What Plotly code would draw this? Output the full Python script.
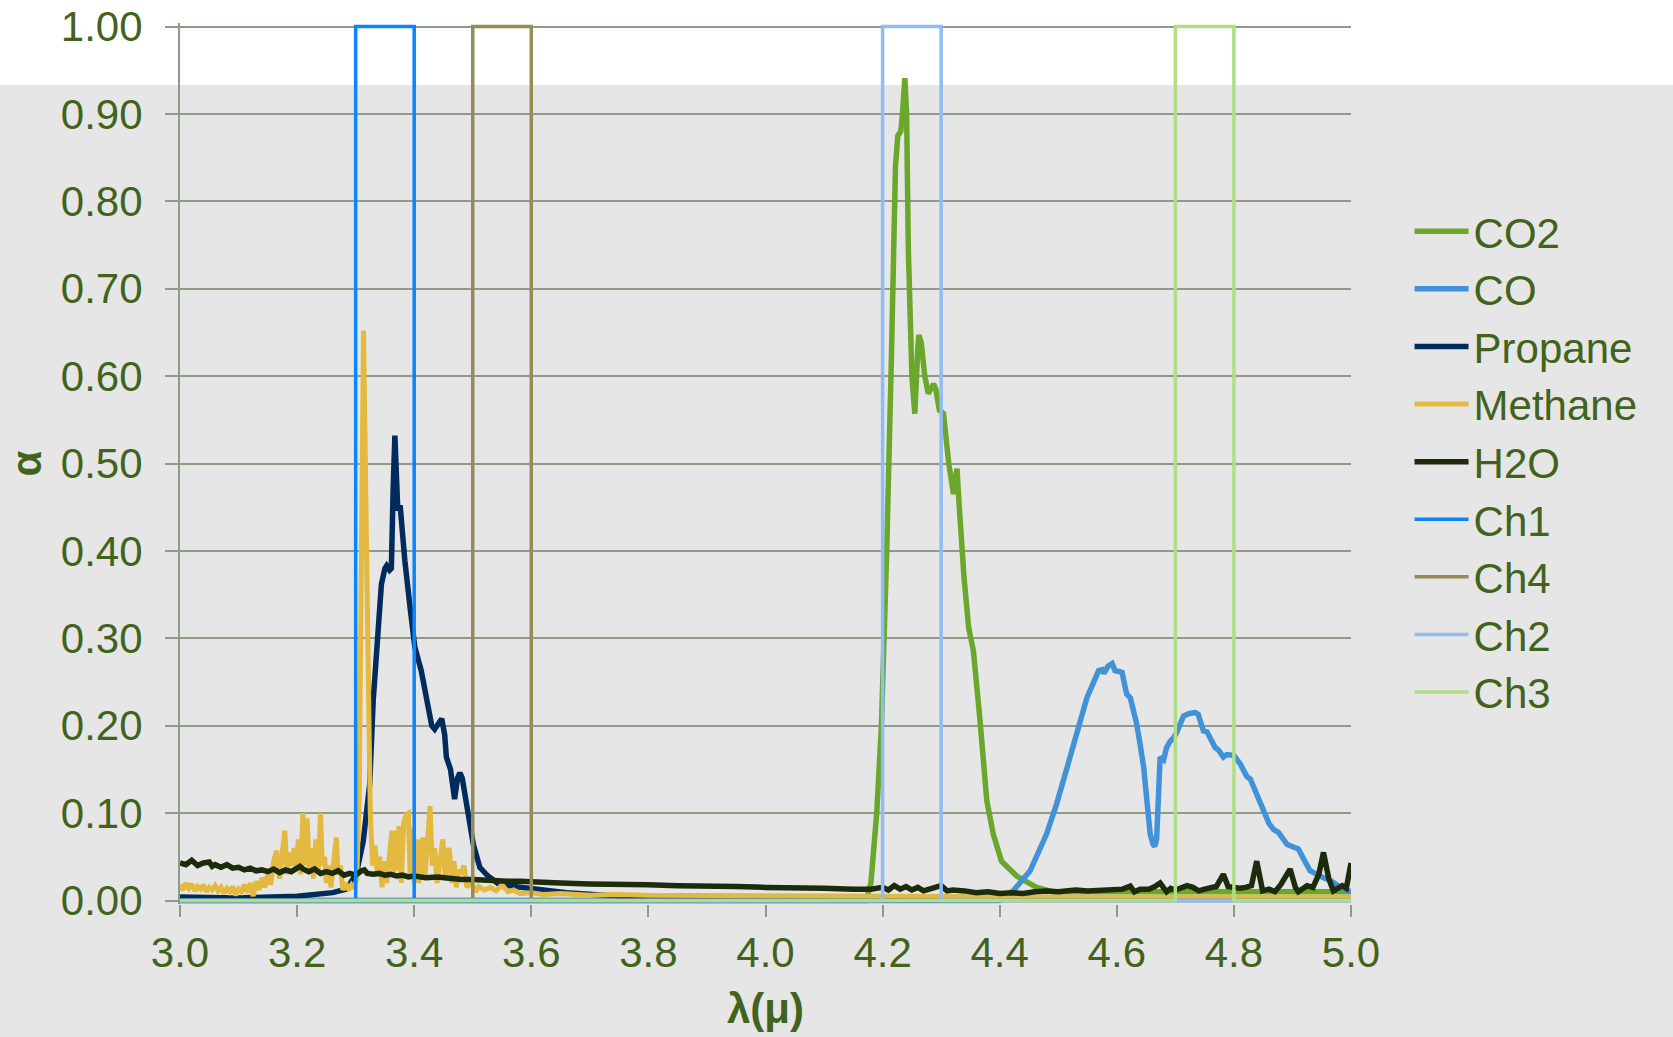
import plotly.graph_objects as go

# ---------------- data ----------------
co2_x = [3.0, 4.15, 4.172, 4.18, 4.186, 4.19, 4.198, 4.203, 4.207, 4.215, 4.222, 4.226, 4.231, 4.234,
         4.238, 4.241, 4.244, 4.25, 4.255, 4.26, 4.262, 4.266, 4.272, 4.278, 4.283, 4.287, 4.291, 4.297,
         4.304, 4.313, 4.321, 4.327, 4.331, 4.335, 4.339, 4.347, 4.355, 4.366, 4.378, 4.389, 4.403,
         4.429, 4.463, 4.49, 4.55, 4.7, 4.9, 5.0]
co2_y = [0.0, 0.0, 0.0, 0.02, 0.06, 0.10, 0.20, 0.30, 0.40, 0.62, 0.84, 0.875, 0.88, 0.90,
         0.941, 0.90, 0.744, 0.60, 0.557, 0.63, 0.647, 0.638, 0.60, 0.58, 0.585, 0.591, 0.585, 0.561,
         0.557, 0.50, 0.465, 0.494, 0.45, 0.40, 0.37, 0.312, 0.286, 0.209, 0.114, 0.076, 0.045,
         0.028, 0.015, 0.010, 0.010, 0.010, 0.010, 0.010]

co_x = [3.0, 4.40, 4.423, 4.452, 4.48, 4.497, 4.515, 4.532, 4.549, 4.569, 4.575, 4.578, 4.585, 4.592,
        4.597, 4.604, 4.609, 4.614, 4.617, 4.623, 4.628, 4.634, 4.640, 4.646, 4.652, 4.657, 4.662,
        4.665, 4.668, 4.671, 4.674, 4.680, 4.685, 4.691, 4.697, 4.702, 4.709, 4.714, 4.724, 4.734,
        4.739, 4.744, 4.748, 4.754, 4.761, 4.768, 4.774, 4.782, 4.788, 4.794, 4.800, 4.811, 4.822,
        4.828, 4.84, 4.851, 4.86, 4.868, 4.876, 4.891, 4.91, 4.918, 4.93, 4.953, 4.962, 4.987, 5.0]
co_y = [0.0, 0.0, 0.011, 0.034, 0.076, 0.110, 0.152, 0.194, 0.232, 0.263, 0.264, 0.260, 0.268, 0.271,
        0.263, 0.262, 0.261, 0.245, 0.236, 0.232, 0.220, 0.202, 0.178, 0.152, 0.110, 0.076, 0.064,
        0.062, 0.070, 0.120, 0.164, 0.161, 0.175, 0.182, 0.186, 0.192, 0.205, 0.211, 0.214, 0.215,
        0.213, 0.200, 0.194, 0.193, 0.183, 0.175, 0.172, 0.164, 0.167, 0.167, 0.166, 0.156, 0.142,
        0.139, 0.120, 0.099, 0.088, 0.081, 0.078, 0.064, 0.059, 0.049, 0.034, 0.026, 0.024, 0.013, 0.010]

propane_x = [3.0, 3.1, 3.2, 3.24, 3.261, 3.284, 3.301, 3.313, 3.324, 3.330, 3.338, 3.344, 3.350,
             3.353, 3.358, 3.361, 3.364, 3.367, 3.370, 3.372, 3.376, 3.380, 3.384, 3.393, 3.401,
             3.412, 3.421, 3.430, 3.435, 3.441, 3.447, 3.452, 3.455, 3.462, 3.469, 3.474, 3.478,
             3.482, 3.487, 3.492, 3.501, 3.512, 3.526, 3.546, 3.603, 3.660, 3.75, 3.9, 4.2, 5.0]
propane_y = [0.004, 0.003, 0.005, 0.007, 0.009, 0.013, 0.030, 0.068, 0.133, 0.229, 0.305, 0.362, 0.380,
             0.383, 0.378, 0.380, 0.470, 0.532, 0.480, 0.446, 0.452, 0.420, 0.389, 0.335, 0.290,
             0.263, 0.232, 0.200, 0.196, 0.203, 0.208, 0.190, 0.164, 0.150, 0.116, 0.140, 0.146,
             0.140, 0.120, 0.095, 0.064, 0.038, 0.028, 0.018, 0.013, 0.009, 0.005, 0.004, 0.003, 0.003]

methane_x = [3.000, 3.005, 3.010, 3.015, 3.020, 3.025, 3.030, 3.035, 3.040, 3.045, 3.050, 3.055, 3.060,
             3.065, 3.070, 3.075, 3.080, 3.085, 3.090, 3.095, 3.100, 3.105, 3.110, 3.115, 3.120, 3.125,
             3.130, 3.135, 3.140, 3.145, 3.150, 3.155, 3.160, 3.165, 3.170, 3.175, 3.179, 3.183, 3.187,
             3.190, 3.195, 3.198, 3.202, 3.206, 3.210, 3.213, 3.217, 3.221, 3.225, 3.228, 3.232, 3.236,
             3.240, 3.243, 3.247, 3.250, 3.254, 3.258, 3.262, 3.267, 3.270, 3.274, 3.278, 3.283, 3.288,
             3.293, 3.298, 3.302, 3.306, 3.310, 3.3135, 3.317, 3.321, 3.325, 3.329, 3.333, 3.337, 3.341,
             3.345, 3.349, 3.353, 3.358, 3.362, 3.365, 3.367, 3.370, 3.374, 3.378, 3.382, 3.387, 3.390,
             3.393, 3.396, 3.400, 3.404, 3.408, 3.412, 3.415, 3.418, 3.422, 3.427, 3.431, 3.435, 3.439,
             3.444, 3.449, 3.453, 3.457, 3.460, 3.464, 3.468, 3.472, 3.476, 3.480, 3.485, 3.490, 3.495,
             3.500, 3.505, 3.510, 3.520, 3.530, 3.540, 3.550, 3.560, 3.570, 3.580, 3.600, 3.620, 3.650,
             3.700, 3.750, 3.800, 3.900, 4.000, 4.200, 4.500, 5.000]
methane_y = [0.018, 0.012, 0.020, 0.014, 0.019, 0.011, 0.016, 0.013, 0.018, 0.010, 0.015, 0.012, 0.017,
             0.011, 0.015, 0.008, 0.014, 0.010, 0.016, 0.006, 0.013, 0.010, 0.018, 0.009, 0.020, 0.005,
             0.022, 0.012, 0.026, 0.015, 0.030, 0.018, 0.045, 0.057, 0.025, 0.050, 0.080, 0.030, 0.055,
             0.040, 0.060, 0.035, 0.070, 0.030, 0.100, 0.040, 0.094, 0.035, 0.060, 0.025, 0.070, 0.030,
             0.100, 0.040, 0.050, 0.020, 0.040, 0.015, 0.045, 0.072, 0.030, 0.040, 0.012, 0.020, 0.012,
             0.018, 0.014, 0.025, 0.120, 0.450, 0.652, 0.480, 0.250, 0.100, 0.040, 0.063, 0.030, 0.050,
             0.015, 0.045, 0.020, 0.053, 0.080, 0.030, 0.080, 0.035, 0.085, 0.020, 0.090, 0.099, 0.100,
             0.030, 0.083, 0.020, 0.070, 0.020, 0.065, 0.072, 0.025, 0.060, 0.108, 0.040, 0.060, 0.020,
             0.050, 0.070, 0.025, 0.055, 0.060, 0.020, 0.045, 0.015, 0.035, 0.030, 0.040, 0.015, 0.020,
             0.017, 0.010, 0.016, 0.012, 0.015, 0.011, 0.018, 0.010, 0.012, 0.008, 0.009, 0.007, 0.008,
             0.006, 0.007, 0.006, 0.006, 0.005, 0.005, 0.004, 0.004]

h2o_x = [3.00, 3.01, 3.02, 3.03, 3.04, 3.05, 3.055, 3.06, 3.07, 3.08, 3.09, 3.10, 3.11, 3.12, 3.13,
         3.14, 3.15, 3.16, 3.17, 3.18, 3.19, 3.20, 3.205, 3.21, 3.22, 3.23, 3.24, 3.25, 3.26, 3.27,
         3.28, 3.29, 3.30, 3.31, 3.315, 3.32, 3.33, 3.34, 3.35, 3.36, 3.37, 3.38, 3.39, 3.40, 3.42,
         3.44, 3.46, 3.48, 3.50, 3.52, 3.54, 3.56, 3.58, 3.60, 3.65, 3.70, 3.75, 3.80, 3.85, 3.90,
         3.95, 4.00, 4.05, 4.10, 4.15, 4.18, 4.20, 4.21, 4.22, 4.23, 4.24, 4.25, 4.26, 4.27, 4.28,
         4.30, 4.31, 4.32, 4.34, 4.36, 4.38, 4.40, 4.42, 4.44, 4.46, 4.48, 4.50, 4.52, 4.53, 4.55,
         4.57, 4.59, 4.61, 4.623, 4.63, 4.64, 4.655, 4.665, 4.674, 4.685, 4.692, 4.70, 4.71, 4.72,
         4.73, 4.74, 4.75, 4.76, 4.77, 4.782, 4.79, 4.80, 4.81, 4.82, 4.83, 4.839, 4.849, 4.86, 4.87,
         4.88, 4.896, 4.905, 4.91, 4.925, 4.935, 4.945, 4.953, 4.962, 4.97, 4.985, 4.992, 5.0]
h2o_y = [0.043, 0.041, 0.046, 0.040, 0.043, 0.044, 0.039, 0.041, 0.038, 0.041, 0.037, 0.038, 0.035,
         0.037, 0.034, 0.035, 0.033, 0.036, 0.032, 0.035, 0.033, 0.037, 0.039, 0.036, 0.033, 0.036,
         0.031, 0.033, 0.031, 0.034, 0.029, 0.031, 0.029, 0.034, 0.035, 0.031, 0.030, 0.031, 0.029,
         0.030, 0.028, 0.029, 0.027, 0.028, 0.026, 0.027, 0.025, 0.024, 0.024, 0.023, 0.023, 0.022,
         0.022, 0.021, 0.020, 0.019, 0.019, 0.018, 0.017, 0.017, 0.016, 0.015, 0.015, 0.014, 0.013,
         0.013, 0.015, 0.012, 0.017, 0.013, 0.016, 0.012, 0.015, 0.011, 0.013, 0.017, 0.011, 0.012,
         0.011, 0.009, 0.010, 0.008, 0.009, 0.008, 0.010, 0.011, 0.010, 0.011, 0.012, 0.011, 0.012,
         0.012, 0.013, 0.0165, 0.010, 0.013, 0.013, 0.016, 0.020, 0.010, 0.014, 0.012, 0.015, 0.017,
         0.015, 0.011, 0.013, 0.014, 0.016, 0.030, 0.016, 0.015, 0.014, 0.015, 0.017, 0.045, 0.011,
         0.013, 0.010, 0.018, 0.036, 0.015, 0.010, 0.017, 0.015, 0.030, 0.055, 0.025, 0.011, 0.017,
         0.014, 0.043]

# channel filter windows (lambda start, lambda end)
ch1_x = [3.0, 3.3, 3.3, 3.4, 3.4, 5.0]
ch4_x = [3.0, 3.5, 3.5, 3.6, 3.6, 5.0]
ch2_x = [3.0, 4.2, 4.2, 4.3, 4.3, 5.0]
ch3_x = [3.0, 4.7, 4.7, 4.8, 4.8, 5.0]
ch_y = [0, 0, 1, 1, 0, 0]

x_ticks = [3.0, 3.2, 3.4, 3.6, 3.8, 4.0, 4.2, 4.4, 4.6, 4.8, 5.0]
y_ticks = [0.0, 0.1, 0.2, 0.3, 0.4, 0.5, 0.6, 0.7, 0.8, 0.9, 1.0]

# ---------------- styling ----------------
TXT = "#41631b"
GRID = "#8e9b86"
FONT = "Arial, Liberation Sans, sans-serif"

series = [
    ("CO2", co2_x, co2_y, "#6aa72a", 5.5),
    ("CO", co_x, co_y, "#4292d9", 5.5),
    ("Propane", propane_x, propane_y, "#002b5c", 5.5),
    ("Methane", methane_x, methane_y, "#e3b93f", 5.0),
    ("H2O", h2o_x, h2o_y, "#1c2b0c", 5.5),
    ("Ch1", ch1_x, ch_y, "#0a84ff", 3.5),
    ("Ch4", ch4_x, ch_y, "#968c55", 3.5),
    ("Ch2", ch2_x, ch_y, "#8fbcf5", 3.5),
    ("Ch3", ch3_x, ch_y, "#b0de85", 3.5),
]

fig = go.Figure()
for name, xs, ys, color, w in series:
    fig.add_trace(go.Scatter(x=xs, y=ys, name=name, mode="lines",
                             line=dict(color=color, width=w)))

W, H = 1673, 1037
ml, mr, mt, mb = 180, 322, 23, 133

fig.update_layout(
    width=W, height=H, autosize=False,
    margin=dict(l=ml, r=mr, t=mt, b=mb, pad=0, autoexpand=False),
    paper_bgcolor="#e6e6e6",
    plot_bgcolor="rgba(0,0,0,0)",
    font=dict(family=FONT, color=TXT, size=42),
    showlegend=True,
    legend=dict(x=1.05, xanchor="left", y=0.802, yanchor="top",
                bgcolor="rgba(0,0,0,0)", font=dict(size=42, color=TXT, family=FONT),
                tracegroupgap=0, itemwidth=54),
    xaxis=dict(range=[3.0, 5.0], tickvals=x_ticks, tickformat=".1f", automargin=False,
               showgrid=False, zeroline=False, showline=False,
               ticks="outside", ticklen=12, tickwidth=2, tickcolor=GRID,
               tickfont=dict(size=42, color=TXT, family=FONT), ticklabelstandoff=0),
    yaxis=dict(range=[-0.004, 1.004], tickvals=y_ticks, tickformat=".2f", automargin=False,
               showgrid=True, gridcolor=GRID, gridwidth=2, zeroline=False,
               showline=True, linecolor=GRID, linewidth=2,
               ticks="outside", ticklen=13, tickwidth=2, tickcolor=GRID,
               tickfont=dict(size=42, color=TXT, family=FONT), ticklabelstandoff=14),
)

# white top band of the slide background
pw = W - ml - mr
ph = H - mt - mb
fig.add_shape(type="rect", xref="paper", yref="paper",
              x0=-ml / pw, x1=1 + mr / pw, y0=1 - (85 - mt) / ph, y1=1 + mt / ph + 0.01,
              fillcolor="white", line=dict(width=0), layer="below")

fig.add_annotation(text="<b>α</b>", xref="paper", yref="paper", x=(26 - ml) / pw, y=0.5,
                   textangle=-90, showarrow=False, font=dict(size=42, color=TXT, family=FONT),
                   xanchor="center", yanchor="middle")
fig.add_annotation(text="<b>λ(μ)</b>", xref="paper", yref="paper", x=0.4996, y=-(1008 - (H - mb)) / ph,
                   showarrow=False, font=dict(size=42, color=TXT, family=FONT),
                   xanchor="center", yanchor="middle")

fig.write_html("out.html", config={"displayModeBar": False},
               post_script="document.body.style.margin='0';")
